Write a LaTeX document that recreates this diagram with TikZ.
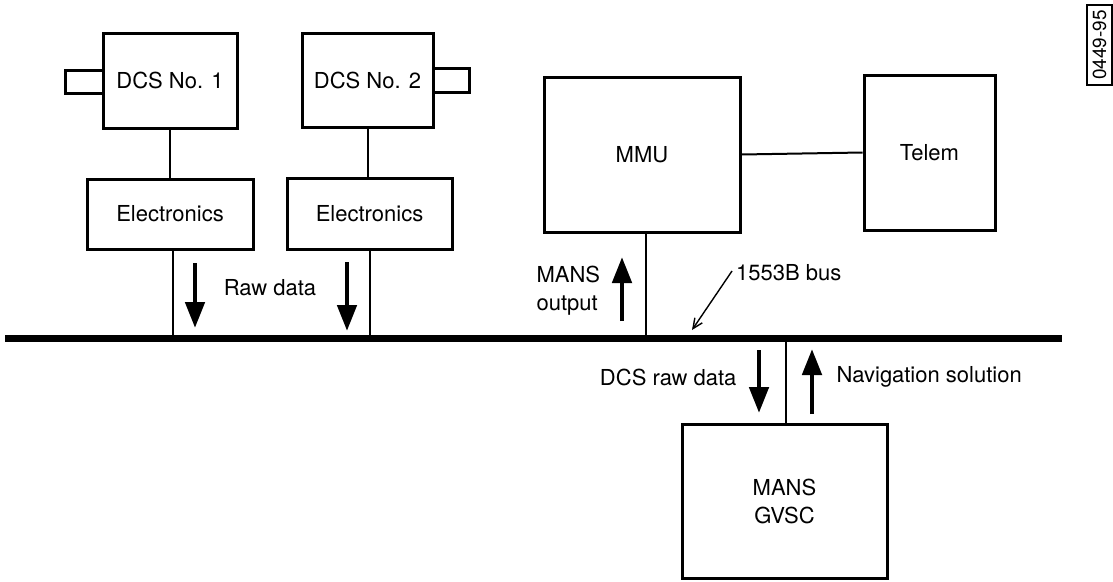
\documentclass[tikz,border=0pt]{standalone}
\usepackage{fontspec}
\setmainfont{TeX Gyre Heros}
\usetikzlibrary{arrows.meta}
\begin{document}
\begin{tikzpicture}[x=1pt,y=-1pt,
  txt/.style={font=\fontsize{22}{28}\selectfont},
  blk/.style={draw, line width=3pt, inner sep=0pt, txt},
  stubbox/.style={draw, line width=3pt, inner sep=0pt},
  wire/.style={line width=2pt},
  flow/.style={line width=4.8pt, -{Triangle[length=26pt,width=19pt]}},
]
\useasboundingbox (0,0) rectangle (1113,581);

% blocks
\node[stubbox, minimum width=38pt, minimum height=23pt] (stub1) at (84,81.5) {};
\node[stubbox, minimum width=36pt, minimum height=24pt] (stub2) at (451,80.5) {};
\node[blk, fill=white, minimum width=134pt, minimum height=95pt] (dcs1) at (170,80.5) {DCS No. 1};
\node[blk, fill=white, minimum width=131pt, minimum height=94pt] (dcs2) at (367.5,80) {DCS No. 2};
\node[blk, minimum width=166pt, minimum height=70pt] (elec1) at (170,214) {Electronics};
\node[blk, minimum width=165pt, minimum height=71pt] (elec2) at (369.5,214) {Electronics};
\node[blk, minimum width=196pt, minimum height=155pt] (mmu) at (642,154.5) {MMU};
\node[blk, minimum width=131pt, minimum height=155pt] (telem) at (929.5,152.5) {Telem};
\node[blk, minimum width=205pt, minimum height=154pt, align=center] (gvsc) at (784.5,501) {MANS\\GVSC};

% bus
\coordinate (busL) at (5,338);
\coordinate (busR) at (1062,338);
\draw[line width=7pt] (busL) -- (busR);

% connectors
\draw[wire] (dcs1.south) -- (elec1.north);
\draw[wire] (dcs2.south) -- (dcs2.south |- elec2.north);
\draw[wire] ([xshift=3pt]elec1.south) -- ([xshift=3pt]elec1.south |- busL);
\draw[wire] (elec2.south) -- (elec2.south |- busL);
\draw[wire] ([xshift=4pt]mmu.south) -- ([xshift=4pt]mmu.south |- busL);
\draw[wire] ([xshift=1.5pt]gvsc.north) -- ([xshift=1.5pt]gvsc.north |- busL);
\draw[wire] (mmu.east) -- (telem.west);

% data flow arrows
\coordinate (r1a) at (195,263); \coordinate (r1b) at (195,328);
\coordinate (r2a) at (347,262); \coordinate (r2b) at (347,331);
\coordinate (moa) at (622,321); \coordinate (mob) at (622,257);
\coordinate (dra) at (759,350); \coordinate (drb) at (759,413);
\coordinate (nsa) at (812,414); \coordinate (nsb) at (812,349);
\draw[flow] (r1a) -- (r1b);
\draw[flow] (r2a) -- (r2b);
\draw[flow] (moa) -- (mob);
\draw[flow] (dra) -- (drb);
\draw[flow] (nsa) -- (nsb);

% labels
\node[txt] (rawlbl) at (270,288) {Raw data};
\node[txt, align=left, anchor=west] (molbl) at (533,291) {MANS\\output};
\node[txt, anchor=east] (drlbl) at (740,377) {DCS raw data};
\node[txt, anchor=west] (nslbl) at (833,377) {Navigation solution};
\node[txt, anchor=west, inner sep=0pt] (buslbl) at (736,273) {1553B bus};
\coordinate (buspt) at (692,330);
\draw[line width=1.4pt, -{Straight Barb[length=10pt,width=9pt]}] ([xshift=-4pt,yshift=2pt]buslbl.west) -- (buspt);

% reference number
\node[draw, line width=1.6pt, rotate=90, minimum width=80pt, minimum height=25pt, inner sep=1pt,
      font=\fontsize{19}{22}\selectfont] (ref) at (1099.5,45) {0449-95};
\end{tikzpicture}
\end{document}
